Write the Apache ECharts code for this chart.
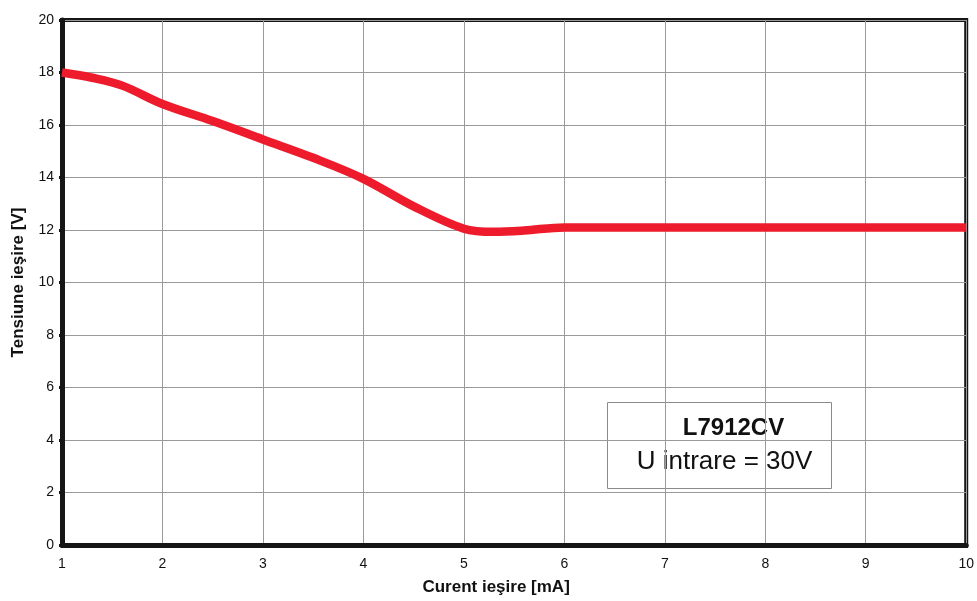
<!DOCTYPE html>
<html>
<head>
<meta charset="utf-8">
<script src="https://cdn.jsdelivr.net/npm/echarts@6/dist/echarts.min.js"></script>
<style>
  html, body { margin: 0; padding: 0; background: #fff; }
  #chart { width: 977px; height: 601px; }
</style>
</head>
<body>
<div id="chart"></div>
<script>
// curent iesire [mA]
var currentMa = [1, 1.3, 1.6, 2, 2.5, 3, 3.5, 4, 4.5, 5, 5.3, 5.6, 6, 7, 8, 9, 10];
// tensiune iesire [V]
var voltageV = [18.0, 17.8, 17.5, 16.8, 16.15, 15.45, 14.75, 13.95, 12.9, 12.05, 11.93, 11.98, 12.1, 12.1, 12.1, 12.1, 12.1];

var chart = echarts.init(document.getElementById('chart'));

var points = currentMa.map(function (x, i) { return [x, voltageV[i]]; });

chart.setOption({
  animation: false,
  grid: {
    left: 62,
    right: 7,
    top: 20,
    bottom: 53,
    show: true,
    borderColor: '#161616',
    borderWidth: 4,
    backgroundColor: '#fff'
  },
  xAxis: {
    type: 'value',
    min: 1,
    max: 10,
    interval: 1,
    name: 'Curent ieşire [mA]',
    nameLocation: 'middle',
    nameGap: 34,
    nameTextStyle: { fontFamily: 'Liberation Sans', fontSize: 17, fontWeight: 'bold', color: '#111', padding: [0, 36, 0, 0] },
    axisLine: { show: true, lineStyle: { color: '#161616', width: 5 } },
    axisTick: { show: true, length: 3, lineStyle: { color: '#161616', width: 3 } },
    axisLabel: { margin: 12, fontFamily: 'Liberation Sans', fontSize: 14, color: '#111' },
    splitLine: { show: true, lineStyle: { color: '#9a9a9a', width: 1 } }
  },
  yAxis: {
    type: 'value',
    min: 0,
    max: 20,
    interval: 2,
    name: 'Tensiune ieşire [V]',
    nameLocation: 'middle',
    nameGap: 35,
    nameTextStyle: { fontFamily: 'Liberation Sans', fontSize: 17, fontWeight: 'bold', color: '#111' },
    axisLine: { show: true, lineStyle: { color: '#161616', width: 5 } },
    axisTick: { show: true, length: 3, lineStyle: { color: '#161616', width: 3 } },
    axisLabel: { margin: 8, fontFamily: 'Liberation Sans', fontSize: 14, color: '#111' },
    splitLine: { show: true, lineStyle: { color: '#9a9a9a', width: 1 } }
  },
  series: [{
    type: 'line',
    data: points,
    smooth: 0.35,
    symbol: 'none',
    lineStyle: { color: '#ee1b2d', width: 8.5 }
  }],
  graphic: [{
    type: 'group',
    left: 607,
    top: 402,
    children: [{
      type: 'rect',
      shape: { x: 0, y: 0, width: 224, height: 86 },
      style: { fill: '#fff', stroke: '#8a8a8a', lineWidth: 1 }
    }, {
      type: 'text',
      x: 126,
      y: 26,
      style: {
        text: 'L7912CV',
        align: 'center',
        verticalAlign: 'middle',
        font: 'bold 24px "Liberation Sans"',
        fill: '#111'
      }
    }, {
      type: 'text',
      x: 117,
      y: 59,
      style: {
        text: 'U intrare = 30V',
        align: 'center',
        verticalAlign: 'middle',
        font: '26px "Liberation Sans"',
        fill: '#111'
      }
    }]
  }]
});
</script>
</body>
</html>
